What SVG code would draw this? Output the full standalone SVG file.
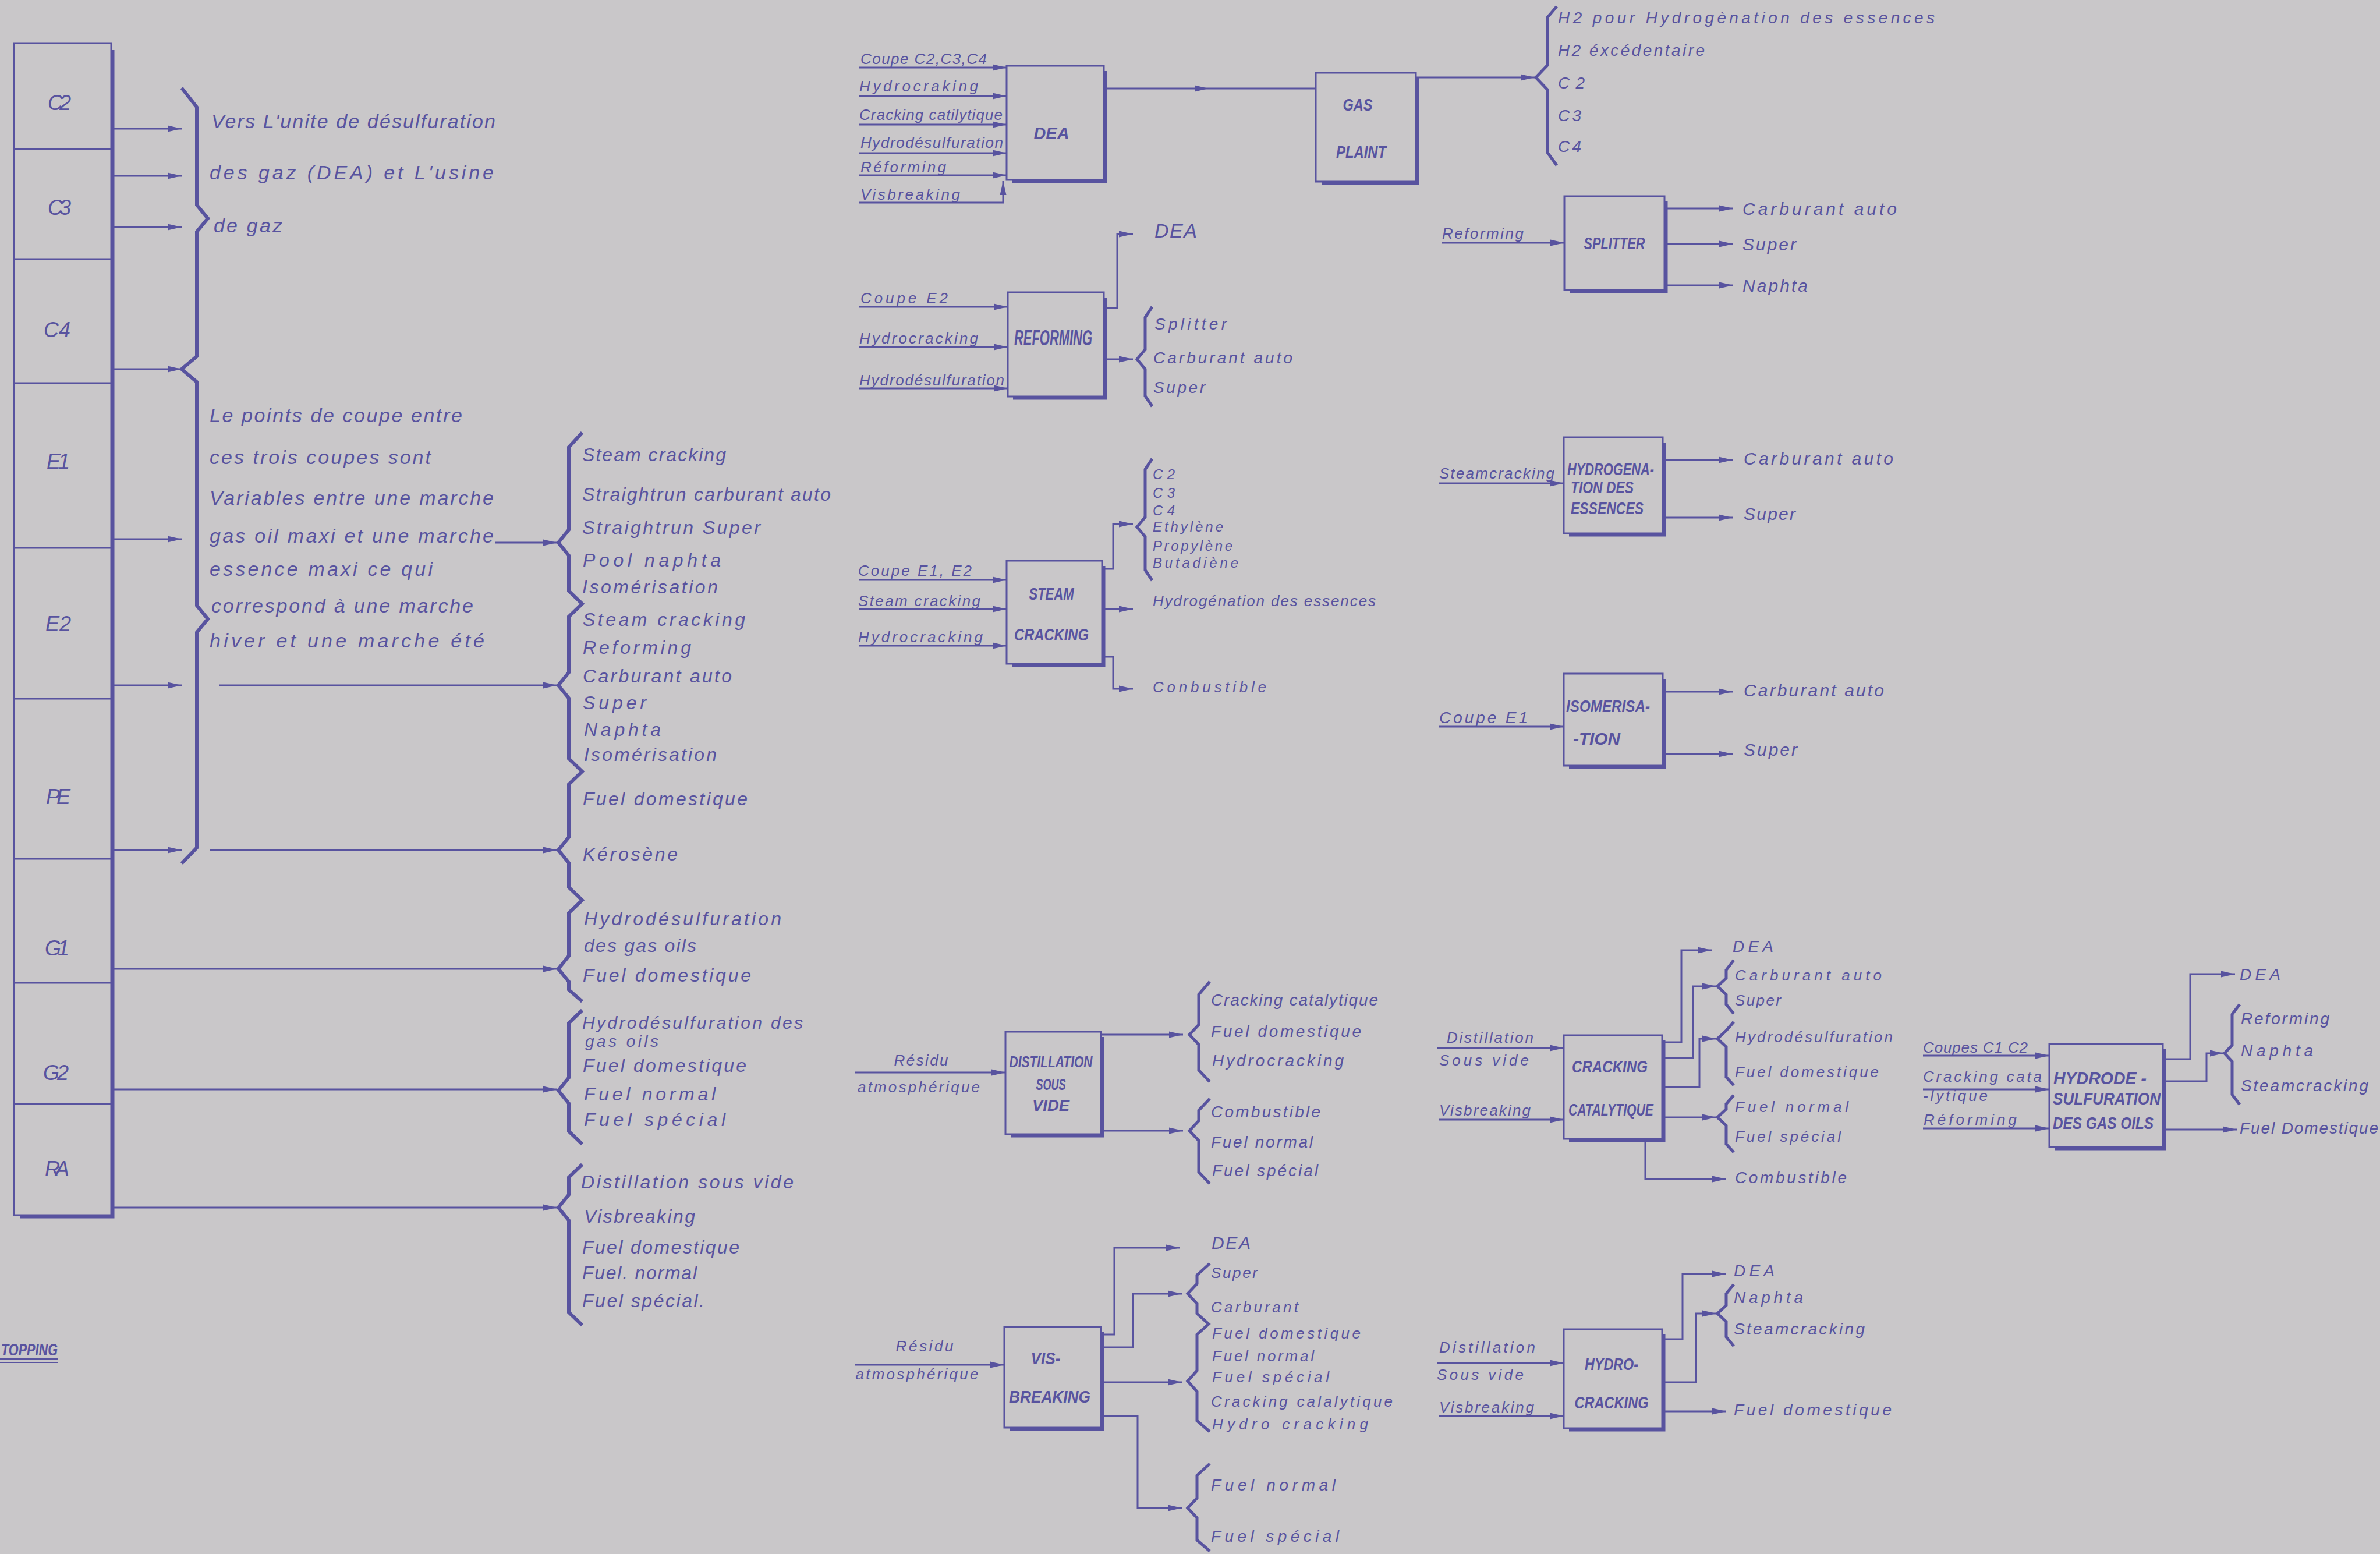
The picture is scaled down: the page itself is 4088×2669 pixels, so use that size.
<svg xmlns="http://www.w3.org/2000/svg" width="4088" height="2669" viewBox="0 0 4088 2669">
<defs>
<style>
.ln{fill:none;stroke:#58539f;stroke-width:3;stroke-linejoin:miter}
.bx{fill:none;stroke:#58539f;stroke-width:3}
.sh{fill:none;stroke:#58539f;stroke-width:5}
.br{fill:none;stroke:#58539f;stroke-width:5;stroke-linejoin:miter}
.br6{fill:none;stroke:#58539f;stroke-width:6;stroke-linejoin:miter}
.a{marker-end:url(#ah)}
text{font-family:"Liberation Sans","DejaVu Sans",sans-serif;font-style:italic;fill:#58539f}
.s24{font-size:24px}.s26{font-size:26px}.s28{font-size:28px}.s30{font-size:30px}.s32{font-size:32px}.s34{font-size:34px}.s36{font-size:36px}
.lb{font-family:"Liberation Sans","DejaVu Sans",sans-serif;font-weight:bold;font-size:30px}
.m{text-anchor:middle}
</style>
<marker id="ah" markerWidth="26" markerHeight="12" refX="24" refY="6" orient="auto" markerUnits="userSpaceOnUse">
<path d="M0,0.5 L24,6 L0,11.5 z" fill="#58539f"/>
</marker>
</defs>
<rect x="0" y="0" width="4088" height="2669" fill="#c9c7c9"/>

<g id="topping">
<rect class="bx" x="24" y="74" width="167" height="2013"/>
<path class="sh" d="M194,86 V2090 H34"/>
<path class="ln" d="M24,256 H191 M24,445 H191 M24,658 H191 M24,941 H191 M24,1200 H191 M24,1475 H191 M24,1688 H191 M24,1896 H191"/>
<text class="s36 m" x="102" y="189" textLength="40">C2</text>
<text class="s36 m" x="102" y="369" textLength="40">C3</text>
<text class="s36 m" x="98" y="579" textLength="46">C4</text>
<text class="s36 m" x="100" y="805" textLength="40">E1</text>
<text class="s36 m" x="100" y="1084" textLength="44">E2</text>
<text class="s36 m" x="100" y="1381" textLength="42">PE</text>
<text class="s36 m" x="98" y="1641" textLength="42">G1</text>
<text class="s36 m" x="96" y="1855" textLength="44">G2</text>
<text class="s36 m" x="98" y="2020" textLength="42">RA</text>
<text class="s30" x="2" y="2328" style="font-weight:bold" textLength="97" lengthAdjust="spacingAndGlyphs">TOPPING</text>
<path class="ln" d="M0,2334 H100 M0,2340 H100" style="stroke-width:2"/>
</g>

<g id="note-gaz">
<text class="s34" x="363" y="220" textLength="488">Vers L'unite de désulfuration</text>
<text class="s34" x="360" y="308" textLength="488">des gaz (DEA) et L'usine</text>
<text class="s34" x="367" y="399" textLength="118">de gaz</text>
</g>

<g id="note-coupes">
<text class="s34" x="360" y="725" textLength="434">Le points de coupe entre</text>
<text class="s34" x="360" y="797" textLength="380">ces trois coupes sont</text>
<text class="s34" x="360" y="867" textLength="488">Variables entre une marche</text>
<text class="s34" x="360" y="932" textLength="488">gas oil maxi et une marche</text>
<text class="s34" x="360" y="989" textLength="383">essence maxi ce qui</text>
<text class="s34" x="363" y="1052" textLength="450">correspond à une marche</text>
<text class="s34" x="360" y="1112" textLength="472">hiver et une marche été</text>
</g>

<g id="products-topping">
<text class="s32" x="1000" y="792" textLength="247">Steam cracking</text>
<text class="s32" x="1000" y="860" textLength="427">Straightrun carburant auto</text>
<text class="s32" x="1000" y="917" textLength="306">Straightrun Super</text>
<text class="s32" x="1001" y="973" textLength="237">Pool naphta</text>
<text class="s32" x="1000" y="1019" textLength="233">Isomérisation</text>
<text class="s32" x="1001" y="1075" textLength="279">Steam cracking</text>
<text class="s32" x="1001" y="1123" textLength="186">Reforming</text>
<text class="s32" x="1001" y="1172" textLength="256">Carburant auto</text>
<text class="s32" x="1001" y="1218" textLength="109">Super</text>
<text class="s32" x="1003" y="1264" textLength="132">Naphta</text>
<text class="s32" x="1003" y="1307" textLength="228">Isomérisation</text>
<text class="s32" x="1001" y="1383" textLength="283">Fuel domestique</text>
<text class="s32" x="1001" y="1478" textLength="163">Kérosène</text>
<text class="s32" x="1003" y="1589" textLength="339">Hydrodésulfuration</text>
<text class="s32" x="1003" y="1635" textLength="193">des gas oils</text>
<text class="s32" x="1001" y="1686" textLength="289">Fuel domestique</text>
<text class="s30" x="1000" y="1767" textLength="379">Hydrodésulfuration des</text>
<text class="s28" x="1005" y="1798" textLength="126">gas oils</text>
<text class="s32" x="1001" y="1841" textLength="281">Fuel domestique</text>
<text class="s32" x="1003" y="1890" textLength="226">Fuel normal</text>
<text class="s32" x="1003" y="1934" textLength="243">Fuel spécial</text>
<text class="s32" x="998" y="2041" textLength="365">Distillation sous vide</text>
<text class="s32" x="1003" y="2100" textLength="191">Visbreaking</text>
<text class="s32" x="1000" y="2153" textLength="270">Fuel domestique</text>
<text class="s32" x="1000" y="2197" textLength="197">Fuel. normal</text>
<text class="s32" x="1000" y="2245" textLength="210">Fuel spécial.</text>
</g>

<g id="dea">
<rect class="bx" x="1729" y="113" width="167" height="196"/>
<path class="sh" d="M1899,122 V312 H1738"/>
<text class="lb m" x="1806" y="239" textLength="61" lengthAdjust="spacingAndGlyphs">DEA</text>
<text class="s26" x="1478" y="110" textLength="217">Coupe C2,C3,C4</text>
<text class="s26" x="1476" y="157" textLength="204">Hydrocraking</text>
<text class="s26" x="1476" y="206" textLength="246">Cracking catilytique</text>
<text class="s26" x="1478" y="254" textLength="245">Hydrodésulfuration</text>
<text class="s26" x="1478" y="296" textLength="147">Réforming</text>
<text class="s26" x="1478" y="343" textLength="171">Visbreaking</text>
</g>

<g id="gas-plaint">
<rect class="bx" x="2260" y="125" width="172" height="187"/>
<path class="sh" d="M2435,134 V315 H2270"/>
<text class="lb m" x="2332" y="190" textLength="51" lengthAdjust="spacingAndGlyphs">GAS</text>
<text class="lb m" x="2338" y="271" textLength="86" lengthAdjust="spacingAndGlyphs">PLAINT</text>
<text class="s28" x="2676" y="40" textLength="647">H2 pour Hydrogènation des essences</text>
<text class="s28" x="2676" y="96" textLength="252">H2 éxcédentaire</text>
<text class="s28" x="2676" y="152" textLength="46">C2</text>
<text class="s28" x="2676" y="208" textLength="40">C3</text>
<text class="s28" x="2676" y="261" textLength="40">C4</text>
</g>

<g id="reforming">
<rect class="bx" x="1731" y="502" width="165" height="179"/>
<path class="sh" d="M1899,511 V684 H1740"/>
<text class="lb m" x="1809" y="593" textLength="134" lengthAdjust="spacingAndGlyphs" style="font-size:36px">REFORMING</text>
<text class="s26" x="1478" y="521" textLength="150">Coupe E2</text>
<text class="s26" x="1476" y="590" textLength="204">Hydrocracking</text>
<text class="s26" x="1476" y="662" textLength="249">Hydrodésulfuration</text>
<text class="s34" x="1983" y="408" textLength="73">DEA</text>
<text class="s28" x="1983" y="566" textLength="124">Splitter</text>
<text class="s28" x="1981" y="624" textLength="239">Carburant auto</text>
<text class="s28" x="1981" y="675" textLength="89">Super</text>
</g>

<g id="steam-cracking">
<rect class="bx" x="1729" y="963" width="164" height="177"/>
<path class="sh" d="M1896,972 V1143 H1738"/>
<text class="lb m" x="1806" y="1030" textLength="77" lengthAdjust="spacingAndGlyphs">STEAM</text>
<text class="lb m" x="1806" y="1100" textLength="128" lengthAdjust="spacingAndGlyphs">CRACKING</text>
<text class="s26" x="1474" y="989" textLength="195">Coupe E1, E2</text>
<text class="s26" x="1474" y="1041" textLength="210">Steam cracking</text>
<text class="s26" x="1474" y="1103" textLength="214">Hydrocracking</text>
<text class="s24" x="1980" y="823" textLength="38">C2</text>
<text class="s24" x="1980" y="855" textLength="38">C3</text>
<text class="s24" x="1980" y="885" textLength="38">C4</text>
<text class="s24" x="1980" y="913" textLength="121">Ethylène</text>
<text class="s24" x="1980" y="946" textLength="137">Propylène</text>
<text class="s24" x="1980" y="975" textLength="147">Butadiène</text>
<text class="s26" x="1980" y="1041" textLength="383">Hydrogénation des essences</text>
<text class="s26" x="1980" y="1189" textLength="195">Conbustible</text>
</g>

<g id="splitter">
<rect class="bx" x="2687" y="337" width="172" height="161"/>
<path class="sh" d="M2862,346 V501 H2696"/>
<text class="lb m" x="2773" y="428" textLength="105" lengthAdjust="spacingAndGlyphs">SPLITTER</text>
<text class="s26" x="2477" y="410" textLength="140">Reforming</text>
<text class="s30" x="2993" y="369" textLength="265">Carburant auto</text>
<text class="s30" x="2993" y="430" textLength="92">Super</text>
<text class="s30" x="2993" y="501" textLength="112">Naphta</text>
</g>

<g id="hydrogenation">
<rect class="bx" x="2686" y="751" width="170" height="165"/>
<path class="sh" d="M2859,760 V919 H2695"/>
<text class="lb" x="2692" y="816" textLength="149" lengthAdjust="spacingAndGlyphs">HYDROGENA-</text>
<text class="lb" x="2698" y="847" textLength="108" lengthAdjust="spacingAndGlyphs">TION DES</text>
<text class="lb" x="2698" y="883" textLength="125" lengthAdjust="spacingAndGlyphs">ESSENCES</text>
<text class="s26" x="2472" y="822" textLength="198">Steamcracking</text>
<text class="s30" x="2995" y="798" textLength="257">Carburant auto</text>
<text class="s30" x="2995" y="893" textLength="89">Super</text>
</g>

<g id="isomerisation">
<rect class="bx" x="2686" y="1157" width="170" height="158"/>
<path class="sh" d="M2859,1166 V1318 H2695"/>
<text class="lb" x="2690" y="1223" textLength="144" lengthAdjust="spacingAndGlyphs">ISOMERISA-</text>
<text class="lb" x="2702" y="1279" textLength="81" lengthAdjust="spacingAndGlyphs">-TION</text>
<text class="s28" x="2472" y="1242" textLength="152">Coupe E1</text>
<text class="s30" x="2995" y="1196" textLength="241">Carburant auto</text>
<text class="s30" x="2995" y="1298" textLength="92">Super</text>
</g>

<g id="distillation-sous-vide">
<rect class="bx" x="1727" y="1772" width="164" height="176"/>
<path class="sh" d="M1894,1781 V1951 H1736"/>
<text class="lb m" x="1805" y="1833" textLength="143" lengthAdjust="spacingAndGlyphs" style="font-size:28px">DISTILLATION</text>
<text class="lb m" x="1805" y="1872" textLength="51" lengthAdjust="spacingAndGlyphs" style="font-size:28px">SOUS</text>
<text class="lb m" x="1805" y="1908" textLength="64" lengthAdjust="spacingAndGlyphs" style="font-size:28px">VIDE</text>
<text class="s26 m" x="1582" y="1830" textLength="93">Résidu</text>
<text class="s26 m" x="1578" y="1876" textLength="210">atmosphérique</text>
<text class="s28" x="2080" y="1727" textLength="287">Cracking catalytique</text>
<text class="s28" x="2080" y="1781" textLength="258">Fuel domestique</text>
<text class="s28" x="2082" y="1831" textLength="226">Hydrocracking</text>
<text class="s28" x="2080" y="1919" textLength="188">Combustible</text>
<text class="s28" x="2080" y="1971" textLength="175">Fuel normal</text>
<text class="s28" x="2082" y="2020" textLength="182">Fuel spécial</text>
</g>

<g id="visbreaking">
<rect class="bx" x="1725" y="2279" width="166" height="173"/>
<path class="sh" d="M1894,2288 V2455 H1734"/>
<text class="lb m" x="1796" y="2343" textLength="51" lengthAdjust="spacingAndGlyphs">VIS-</text>
<text class="lb m" x="1803" y="2409" textLength="140" lengthAdjust="spacingAndGlyphs">BREAKING</text>
<text class="s26 m" x="1588" y="2321" textLength="99">Résidu</text>
<text class="s26 m" x="1575" y="2369" textLength="211">atmosphérique</text>
<text class="s30" x="2081" y="2145" textLength="67">DEA</text>
<text class="s26" x="2080" y="2195" textLength="80">Super</text>
<text class="s26" x="2080" y="2254" textLength="150">Carburant</text>
<text class="s26" x="2082" y="2299" textLength="255">Fuel domestique</text>
<text class="s26" x="2082" y="2338" textLength="175">Fuel normal</text>
<text class="s26" x="2082" y="2374" textLength="201">Fuel spécial</text>
<text class="s26" x="2080" y="2416" textLength="312">Cracking calalytique</text>
<text class="s26" x="2082" y="2455" textLength="268">Hydro cracking</text>
<text class="s28" x="2080" y="2560" textLength="214">Fuel normal</text>
<text class="s28" x="2080" y="2648" textLength="220">Fuel spécial</text>
</g>

<g id="cracking-catalytique">
<rect class="bx" x="2686" y="1778" width="169" height="178"/>
<path class="sh" d="M2858,1787 V1959 H2695"/>
<text class="lb m" x="2765" y="1842" textLength="130" lengthAdjust="spacingAndGlyphs">CRACKING</text>
<text class="lb m" x="2767" y="1916" textLength="146" lengthAdjust="spacingAndGlyphs">CATALYTIQUE</text>
<text class="s26" x="2485" y="1791" textLength="149">Distillation</text>
<text class="s26" x="2472" y="1830" textLength="154">Sous vide</text>
<text class="s26" x="2472" y="1916" textLength="157">Visbreaking</text>
<text class="s28" x="2976" y="1635" textLength="70">DEA</text>
<text class="s26" x="2980" y="1684" textLength="252">Carburant auto</text>
<text class="s26" x="2980" y="1727" textLength="79">Super</text>
<text class="s26" x="2980" y="1790" textLength="271">Hydrodésulfuration</text>
<text class="s26" x="2980" y="1850" textLength="247">Fuel domestique</text>
<text class="s26" x="2980" y="1910" textLength="195">Fuel normal</text>
<text class="s26" x="2980" y="1961" textLength="182">Fuel spécial</text>
<text class="s28" x="2980" y="2032" textLength="192">Combustible</text>
</g>

<g id="hydrocracking">
<rect class="bx" x="2686" y="2283" width="169" height="170"/>
<path class="sh" d="M2858,2292 V2456 H2695"/>
<text class="lb m" x="2768" y="2353" textLength="92" lengthAdjust="spacingAndGlyphs">HYDRO-</text>
<text class="lb m" x="2768" y="2419" textLength="127" lengthAdjust="spacingAndGlyphs">CRACKING</text>
<text class="s26" x="2472" y="2323" textLength="165">Distillation</text>
<text class="s26" x="2468" y="2370" textLength="149">Sous vide</text>
<text class="s26" x="2472" y="2426" textLength="163">Visbreaking</text>
<text class="s28" x="2978" y="2192" textLength="70">DEA</text>
<text class="s28" x="2978" y="2238" textLength="119">Naphta</text>
<text class="s28" x="2978" y="2292" textLength="225">Steamcracking</text>
<text class="s28" x="2978" y="2431" textLength="271">Fuel domestique</text>
</g>

<g id="hds-gas-oils">
<rect class="bx" x="3520" y="1793" width="195" height="177"/>
<path class="sh" d="M3718,1802 V1973 H3529"/>
<text class="lb" x="3527" y="1862" textLength="160" lengthAdjust="spacingAndGlyphs">HYDRODE -</text>
<text class="lb" x="3526" y="1897" textLength="185" lengthAdjust="spacingAndGlyphs">SULFURATION</text>
<text class="lb" x="3526" y="1939" textLength="173" lengthAdjust="spacingAndGlyphs">DES GAS OILS</text>
<text class="s26" x="3303" y="1808" textLength="180">Coupes C1 C2</text>
<text class="s26" x="3303" y="1858" textLength="204">Cracking cata</text>
<text class="s26" x="3303" y="1891" textLength="111">-lytique</text>
<text class="s26" x="3304" y="1932" textLength="160">Réforming</text>
<text class="s28" x="3847" y="1683" textLength="70">DEA</text>
<text class="s28" x="3849" y="1759" textLength="152">Reforming</text>
<text class="s28" x="3849" y="1814" textLength="124">Naphta</text>
<text class="s28" x="3849" y="1874" textLength="219">Steamcracking</text>
<text class="s28" x="3847" y="1947" textLength="238">Fuel Domestique</text>
</g>

<g id="connectors">
<path class="ln a" d="M195,221 H312"/>
<path class="ln a" d="M195,302 H312"/>
<path class="ln a" d="M195,390 H312"/>
<path class="ln a" d="M195,634 H312"/>
<path class="ln a" d="M195,926 H312"/>
<path class="ln a" d="M195,1177 H312"/>
<path class="ln a" d="M195,1460 H312"/>
<path class="br6" d="M312,151 L338,184 V352 L357,375 L338,398 V612 L312,634 L338,656 V1040 L357,1063 L338,1086 V1456 L312,1483"/>
<path class="ln a" d="M851,932 H957"/>
<path class="ln a" d="M376,1177 H957"/>
<path class="ln a" d="M360,1460 H957"/>
<path class="ln a" d="M195,1664 H957"/>
<path class="ln a" d="M195,1871 H957"/>
<path class="ln a" d="M195,2074 H957"/>
<path class="br6" d="M1000,743 L977,768 V910 L959,932 L977,954 V1015 L1000,1037 L977,1059 V1155 L959,1177 L977,1199 V1303 L1000,1325 L977,1347 V1438 L959,1460 L977,1482 V1524 L1000,1546 L977,1568 V1642 L959,1664 L977,1686 V1700 L1000,1720"/>
<path class="br6" d="M1000,1735 L977,1757 V1851 L959,1873 L977,1895 V1943 L1000,1965"/>
<path class="br6" d="M1000,2000 L977,2022 V2052 L959,2074 L977,2096 V2254 L1000,2276"/>
<path class="ln a" d="M1476,116 H1729"/>
<path class="ln a" d="M1476,165 H1729"/>
<path class="ln a" d="M1476,214 H1729"/>
<path class="ln a" d="M1476,263 H1729"/>
<path class="ln a" d="M1476,301 H1729"/>
<path class="ln a" d="M1476,348 H1723 V311"/>
<path class="ln" d="M1896,152 H2260"/>
<path d="M2052,146.5 L2076,152 L2052,157.5 z" fill="#58539f"/>
<path class="ln a" d="M2432,133 H2636"/>
<path class="br" d="M2674,11 L2658,30 V112 L2638,133 L2658,154 V262 L2674,284"/>
<path class="ln a" d="M1476,527 H1731"/>
<path class="ln a" d="M1476,596 H1731"/>
<path class="ln a" d="M1476,667 H1731"/>
<path class="ln a" d="M1896,529 H1919 V402 H1946"/>
<path class="ln a" d="M1896,617 H1946"/>
<path class="br" d="M1979,527 L1967,545 V600 L1953,617 L1967,634 V680 L1979,698"/>
<path class="ln a" d="M1476,996 H1729"/>
<path class="ln a" d="M1476,1046 H1729"/>
<path class="ln a" d="M1476,1109 H1729"/>
<path class="ln a" d="M1893,977 H1912 V900 H1946"/>
<path class="br" d="M1979,788 L1967,806 V888 L1953,905 L1967,922 V979 L1979,997"/>
<path class="ln a" d="M1893,1046 H1946"/>
<path class="ln a" d="M1893,1128 H1912 V1183 H1946"/>
<path class="ln a" d="M2477,417 H2687"/>
<path class="ln a" d="M2859,358 H2977"/>
<path class="ln a" d="M2859,419 H2977"/>
<path class="ln a" d="M2859,490 H2977"/>
<path class="ln a" d="M2472,830 H2686"/>
<path class="ln a" d="M2856,790 H2976"/>
<path class="ln a" d="M2856,889 H2976"/>
<path class="ln a" d="M2472,1248 H2686"/>
<path class="ln a" d="M2856,1188 H2976"/>
<path class="ln a" d="M2856,1295 H2976"/>
<path class="ln a" d="M1469,1842 H1727"/>
<path class="ln a" d="M1891,1777 H2032"/>
<path class="ln a" d="M1891,1942 H2032"/>
<path class="br" d="M2078,1686 L2059,1708 V1760 L2043,1777 L2059,1794 V1838 L2078,1858"/>
<path class="br" d="M2078,1887 L2059,1907 V1925 L2043,1942 L2059,1959 V2013 L2078,2033"/>
<path class="ln a" d="M1469,2344 H1725"/>
<path class="ln a" d="M1891,2292 H1914 V2143 H2027"/>
<path class="ln a" d="M1891,2314 H1946 V2222 H2030"/>
<path class="ln a" d="M1891,2374 H2030"/>
<path class="ln a" d="M1891,2432 H1954 V2590 H2030"/>
<path class="br" d="M2078,2170 L2056,2190 V2205 L2040,2222 L2056,2239 V2256 L2076,2274 L2056,2292 V2354 L2040,2372 L2056,2390 V2440 L2078,2459"/>
<path class="br" d="M2078,2514 L2056,2534 V2573 L2040,2590 L2056,2607 V2645 L2078,2664"/>
<path class="ln a" d="M2469,1800 H2686"/>
<path class="ln a" d="M2472,1923 H2686"/>
<path class="ln a" d="M2855,1790 H2888 V1632 H2940"/>
<path class="ln a" d="M2855,1817 H2908 V1694 H2948"/>
<path class="ln a" d="M2855,1867 H2919 V1784 H2948"/>
<path class="ln a" d="M2855,1919 H2948"/>
<path class="ln a" d="M2826,1956 V2025 H2965"/>
<path class="br" d="M2978,1649 L2965,1666 V1680 L2950,1694 L2965,1708 V1725 L2978,1741"/>
<path class="br" d="M2978,1755 L2965,1770 L2950,1784 L2965,1798 V1850 L2978,1864"/>
<path class="br" d="M2978,1881 L2965,1896 V1905 L2950,1919 L2965,1933 V1965 L2978,1979"/>
<path class="ln a" d="M2469,2341 H2686"/>
<path class="ln a" d="M2472,2432 H2686"/>
<path class="ln a" d="M2855,2300 H2890 V2188 H2965"/>
<path class="ln a" d="M2855,2374 H2913 V2256 H2948"/>
<path class="ln a" d="M2855,2424 H2965"/>
<path class="br" d="M2978,2206 L2965,2222 V2242 L2950,2256 L2965,2270 V2296 L2978,2312"/>
<path class="ln a" d="M3303,1813 H3520"/>
<path class="ln a" d="M3303,1871 H3520"/>
<path class="ln a" d="M3303,1938 H3520"/>
<path class="ln a" d="M3715,1819 H3762 V1673 H3839"/>
<path class="ln a" d="M3715,1857 H3790 V1809 H3820"/>
<path class="ln a" d="M3715,1940 H3842"/>
<path class="br" d="M3847,1725 L3834,1742 V1795 L3821,1809 L3834,1823 V1880 L3847,1897"/>
</g>
</svg>
